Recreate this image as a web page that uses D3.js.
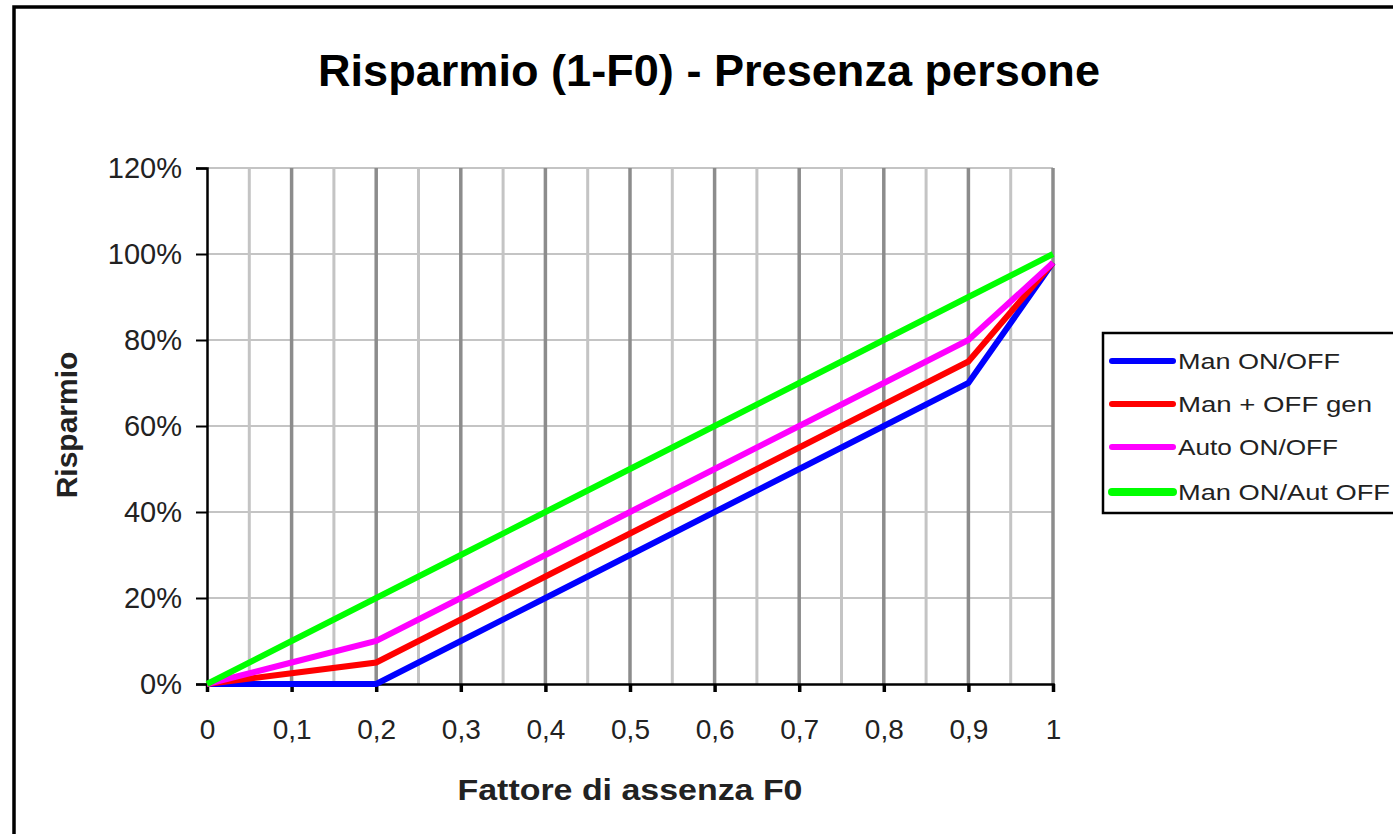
<!DOCTYPE html>
<html>
<head>
<meta charset="utf-8">
<script src="https://cdn.jsdelivr.net/npm/d3@7"></script>
<style>
  body { margin: 0; background: #fff; }
  svg { display: block; font-family: "Liberation Sans", Arial, sans-serif; }
</style>
</head>
<body>
<div id="wrapper"></div>
<script>
// Data
const xValues = [0, 0.1, 0.2, 0.3, 0.4, 0.5, 0.6, 0.7, 0.8, 0.9, 1]
const seriesNames = ["Man ON/OFF", "Man + OFF gen", "Auto ON/OFF", "Man ON/Aut OFF"]
const seriesColors = ["#0000ff", "#ff0000", "#ff00ff", "#00ff00"]
const manOnOff = [0, 0, 0, 10, 20, 30, 40, 50, 60, 70, 98]
const manOffGen = [0, 2.5, 5, 15, 25, 35, 45, 55, 65, 75, 98]
const autoOnOff = [0, 5, 10, 20, 30, 40, 50, 60, 70, 80, 98]
const manOnAutOff = [0, 10, 20, 30, 40, 50, 60, 70, 80, 90, 100]
const yTicks = [0, 20, 40, 60, 80, 100, 120]
const xTicks = [0, 0.1, 0.2, 0.3, 0.4, 0.5, 0.6, 0.7, 0.8, 0.9, 1]
const xMinor = [0.05, 0.15, 0.25, 0.35, 0.45, 0.55, 0.65, 0.75, 0.85, 0.95]

const seriesValues = [manOnOff, manOffGen, autoOnOff, manOnAutOff]

function drawChart() {

  // 1. Dimensions
  const dimensions = {
    width: 1393,
    height: 834,
    margin: { top: 168, left: 207 },
    boundedWidth: 846,
    boundedHeight: 516,
  }

  // 2. Canvas
  const wrapper = d3.select("#wrapper")
    .append("svg")
      .attr("width", dimensions.width)
      .attr("height", dimensions.height)

  // outer frame (runs off the right and bottom edges)
  wrapper.append("rect")
      .attr("x", 14)
      .attr("y", 7)
      .attr("width", 1420)
      .attr("height", 860)
      .attr("fill", "none")
      .attr("stroke", "#000")
      .attr("stroke-width", 3.5)

  wrapper.append("text")
      .attr("x", 709)
      .attr("y", 86)
      .attr("text-anchor", "middle")
      .attr("font-size", 45)
      .attr("font-weight", "bold")
      .attr("textLength", 782)
      .attr("lengthAdjust", "spacingAndGlyphs")
      .text("Risparmio (1-F0) - Presenza persone")

  const bounds = wrapper.append("g")
      .attr("transform", `translate(${dimensions.margin.left},${dimensions.margin.top})`)

  // 3. Scales
  const xScale = d3.scaleLinear()
    .domain([0, 1])
    .range([0, dimensions.boundedWidth])

  const yScale = d3.scaleLinear()
    .domain([0, 120])
    .range([dimensions.boundedHeight, 0])

  // 4. Gridlines
  bounds.append("g")
    .selectAll("line")
    .data(yTicks.slice(1))
    .join("line")
      .attr("x1", 0)
      .attr("x2", dimensions.boundedWidth)
      .attr("y1", d => yScale(d))
      .attr("y2", d => yScale(d))
      .attr("stroke", "#c4c4c4")
      .attr("stroke-width", 2)

  bounds.append("g")
    .selectAll("line")
    .data(xMinor)
    .join("line")
      .attr("x1", d => xScale(d))
      .attr("x2", d => xScale(d))
      .attr("y1", 0)
      .attr("y2", dimensions.boundedHeight)
      .attr("stroke", "#c4c4c4")
      .attr("stroke-width", 3)

  bounds.append("g")
    .selectAll("line")
    .data(xTicks.slice(1))
    .join("line")
      .attr("x1", d => xScale(d))
      .attr("x2", d => xScale(d))
      .attr("y1", 0)
      .attr("y2", dimensions.boundedHeight)
      .attr("stroke", "#8c8c8c")
      .attr("stroke-width", 3.5)

  // 5. Axes
  const yAxisGenerator = d3.axisLeft(yScale)
    .tickValues(yTicks)
    .tickSize(11)
    .tickPadding(14)
    .tickFormat(d => d + "%")

  const yAxis = bounds.append("g").call(yAxisGenerator)
  yAxis.select(".domain").attr("stroke-width", 2.5)
  yAxis.selectAll(".tick line").attr("stroke-width", 2)
  yAxis.selectAll("text")
      .attr("font-size", 29)
      .attr("font-family", "Liberation Sans, Arial, sans-serif")
      .attr("fill", "#222")

  const xAxisGenerator = d3.axisBottom(xScale)
    .tickValues(xTicks)
    .tickSize(8)
    .tickPadding(27)
    .tickFormat(d => d3.format("")(d).replace(".", ","))

  const xAxis = bounds.append("g")
      .attr("transform", `translate(0,${dimensions.boundedHeight})`)
      .call(xAxisGenerator)
  xAxis.select(".domain").attr("stroke-width", 2.5)
  xAxis.selectAll(".tick line").attr("stroke-width", 3.5)
  xAxis.selectAll("text")
      .attr("font-size", 28)
      .attr("font-family", "Liberation Sans, Arial, sans-serif")
      .attr("fill", "#222")

  wrapper.append("text")
      .attr("x", 630)
      .attr("y", 800)
      .attr("text-anchor", "middle")
      .attr("font-size", 29)
      .attr("font-weight", "bold")
      .attr("fill", "#222")
      .attr("textLength", 345)
      .attr("lengthAdjust", "spacingAndGlyphs")
      .text("Fattore di assenza F0")

  wrapper.append("text")
      .attr("transform", "translate(77,425) rotate(-90)")
      .attr("text-anchor", "middle")
      .attr("font-size", 30)
      .attr("font-weight", "bold")
      .attr("fill", "#222")
      .text("Risparmio")

  // 6. Lines
  const lineGenerator = d3.line()
    .x((d, i) => xScale(xValues[i]))
    .y(d => yScale(d))

  bounds.append("g")
    .selectAll("path")
    .data(seriesValues)
    .join("path")
      .attr("d", d => lineGenerator(d))
      .attr("fill", "none")
      .attr("stroke", (d, i) => seriesColors[i])
      .attr("stroke-width", 6)
      .attr("stroke-linejoin", "miter")

  // 7. Legend
  const legend = wrapper.append("g")
  legend.append("rect")
      .attr("x", 1103)
      .attr("y", 333)
      .attr("width", 320)
      .attr("height", 180)
      .attr("fill", "#fff")
      .attr("stroke", "#000")
      .attr("stroke-width", 2.5)

  const legendRows = [361, 404, 447, 492]
  const legendWidths = [162, 194, 160, 212]
  const items = legend.selectAll(".item")
    .data(seriesNames)
    .join("g")
      .attr("class", "item")
      .attr("transform", (d, i) => `translate(1112,${legendRows[i]})`)

  items.append("line")
      .attr("x1", 0)
      .attr("x2", 61)
      .attr("stroke", (d, i) => seriesColors[i])
      .attr("stroke-width", (d, i) => i === 3 ? 8 : 6)
      .attr("stroke-linecap", "round")

  items.append("text")
      .attr("x", 66)
      .attr("y", 8)
      .attr("font-size", 22)
      .attr("fill", "#222")
      .attr("textLength", (d, i) => legendWidths[i])
      .attr("lengthAdjust", "spacingAndGlyphs")
      .text(d => d)
}
drawChart()
</script>
</body>
</html>
